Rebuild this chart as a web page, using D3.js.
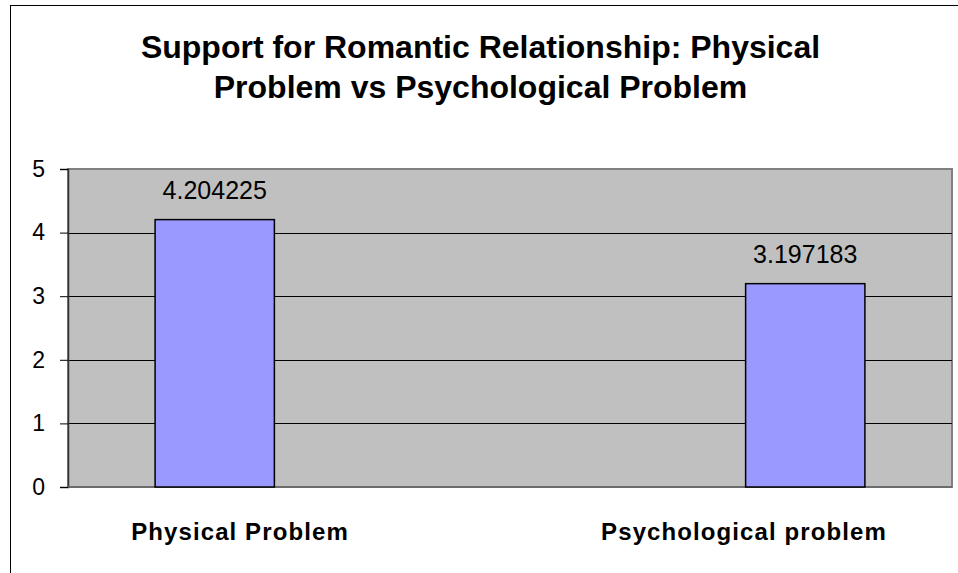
<!DOCTYPE html>
<html>
<head>
<meta charset="utf-8">
<script src="https://cdn.jsdelivr.net/npm/d3@7"></script>
<style>
  html, body { margin: 0; padding: 0; background: #fff; }
  svg { display: block; font-family: "Liberation Sans", Arial, sans-serif; }
</style>
</head>
<body>
<svg id="chart" width="958" height="573"></svg>
<script>
// Chart data
const categories = ["Physical Problem", "Psychological problem"];
const values = [4.204225, 3.197183];
const yTicks = [0, 1, 2, 3, 4, 5];
const titleLines = ["Support for Romantic Relationship: Physical", "Problem vs Psychological Problem"];

const W = 958, H = 573;
const plot = { left: 68, right: 952, top: 169, bottom: 487 };

const svg = d3.select("#chart");

// Outer chart frame
svg.append("rect")
  .attr("x", 10.5).attr("y", 5.5)
  .attr("width", W + 20).attr("height", H + 20)
  .attr("fill", "#fff").attr("stroke", "#000").attr("stroke-width", 1);

// Title
svg.append("g").selectAll("text")
  .data(titleLines)
  .join("text")
  .attr("x", 480.5)
  .attr("y", (d, i) => 58 + i * 40)
  .attr("text-anchor", "middle")
  .attr("font-weight", "bold")
  .attr("font-size", 32)
  .attr("fill", "#000")
  .text(d => d);

// Scales
const x = d3.scaleBand()
  .domain(categories)
  .range([plot.left, plot.right])
  .paddingInner(0.798)
  .paddingOuter(0.1475);

const y = d3.scaleLinear()
  .domain([0, 5])
  .range([plot.bottom, plot.top]);

// Category label positions
const xLabel = d3.scalePoint()
  .domain(categories)
  .range([plot.left + 172, plot.right - 208]);

// Plot area background
svg.append("rect")
  .attr("x", plot.left).attr("y", plot.top)
  .attr("width", plot.right - plot.left).attr("height", plot.bottom - plot.top)
  .attr("fill", "#C0C0C0")
  .attr("stroke", "#808080").attr("stroke-width", 2);

// Horizontal gridlines
svg.append("g").selectAll("line")
  .data(yTicks.filter(t => t > 0 && t < 5))
  .join("line")
  .attr("x1", plot.left).attr("x2", plot.right)
  .attr("y1", d => Math.round(y(d)) + 0.5).attr("y2", d => Math.round(y(d)) + 0.5)
  .attr("stroke", "#000").attr("stroke-width", 1);

// Y axis
const yAxis = d3.axisLeft(y)
  .tickValues(yTicks)
  .tickFormat(d3.format("d"))
  .tickSize(8)
  .tickPadding(15);

const gy = svg.append("g")
  .attr("transform", `translate(${plot.left},0)`)
  .call(yAxis);
gy.select(".domain").attr("stroke", "#333").attr("stroke-width", 1.5);
gy.selectAll(".tick line").attr("stroke", "#000");
gy.selectAll(".tick text")
  .attr("font-family", "'Liberation Sans', Arial, sans-serif")
  .attr("font-size", 23)
  .attr("fill", "#000");

// Category axis baseline
svg.append("line")
  .attr("x1", plot.left).attr("x2", plot.right)
  .attr("y1", y(0)).attr("y2", y(0))
  .attr("stroke", "#666").attr("stroke-width", 1.5);

// Bars
svg.append("g").selectAll("rect")
  .data(values)
  .join("rect")
  .attr("x", (d, i) => x(categories[i]))
  .attr("y", d => y(d))
  .attr("width", x.bandwidth())
  .attr("height", d => y(0) - y(d))
  .attr("fill", "#9999FF")
  .attr("stroke", "#000")
  .attr("stroke-width", 1.5);

// Value labels
svg.append("g").selectAll("text")
  .data(values)
  .join("text")
  .attr("x", (d, i) => x(categories[i]) + x.bandwidth() / 2)
  .attr("y", d => y(d) - 21)
  .attr("text-anchor", "middle")
  .attr("font-size", 25)
  .attr("fill", "#000")
  .text(d => d3.format(".6f")(d));

// Category labels
svg.append("g").selectAll("text")
  .data(categories)
  .join("text")
  .attr("x", d => xLabel(d))
  .attr("y", 540)
  .attr("text-anchor", "middle")
  .attr("font-weight", "bold")
  .attr("font-size", 24)
  .attr("letter-spacing", 1.1)
  .attr("fill", "#000")
  .text(d => d);
</script>
</body>
</html>
